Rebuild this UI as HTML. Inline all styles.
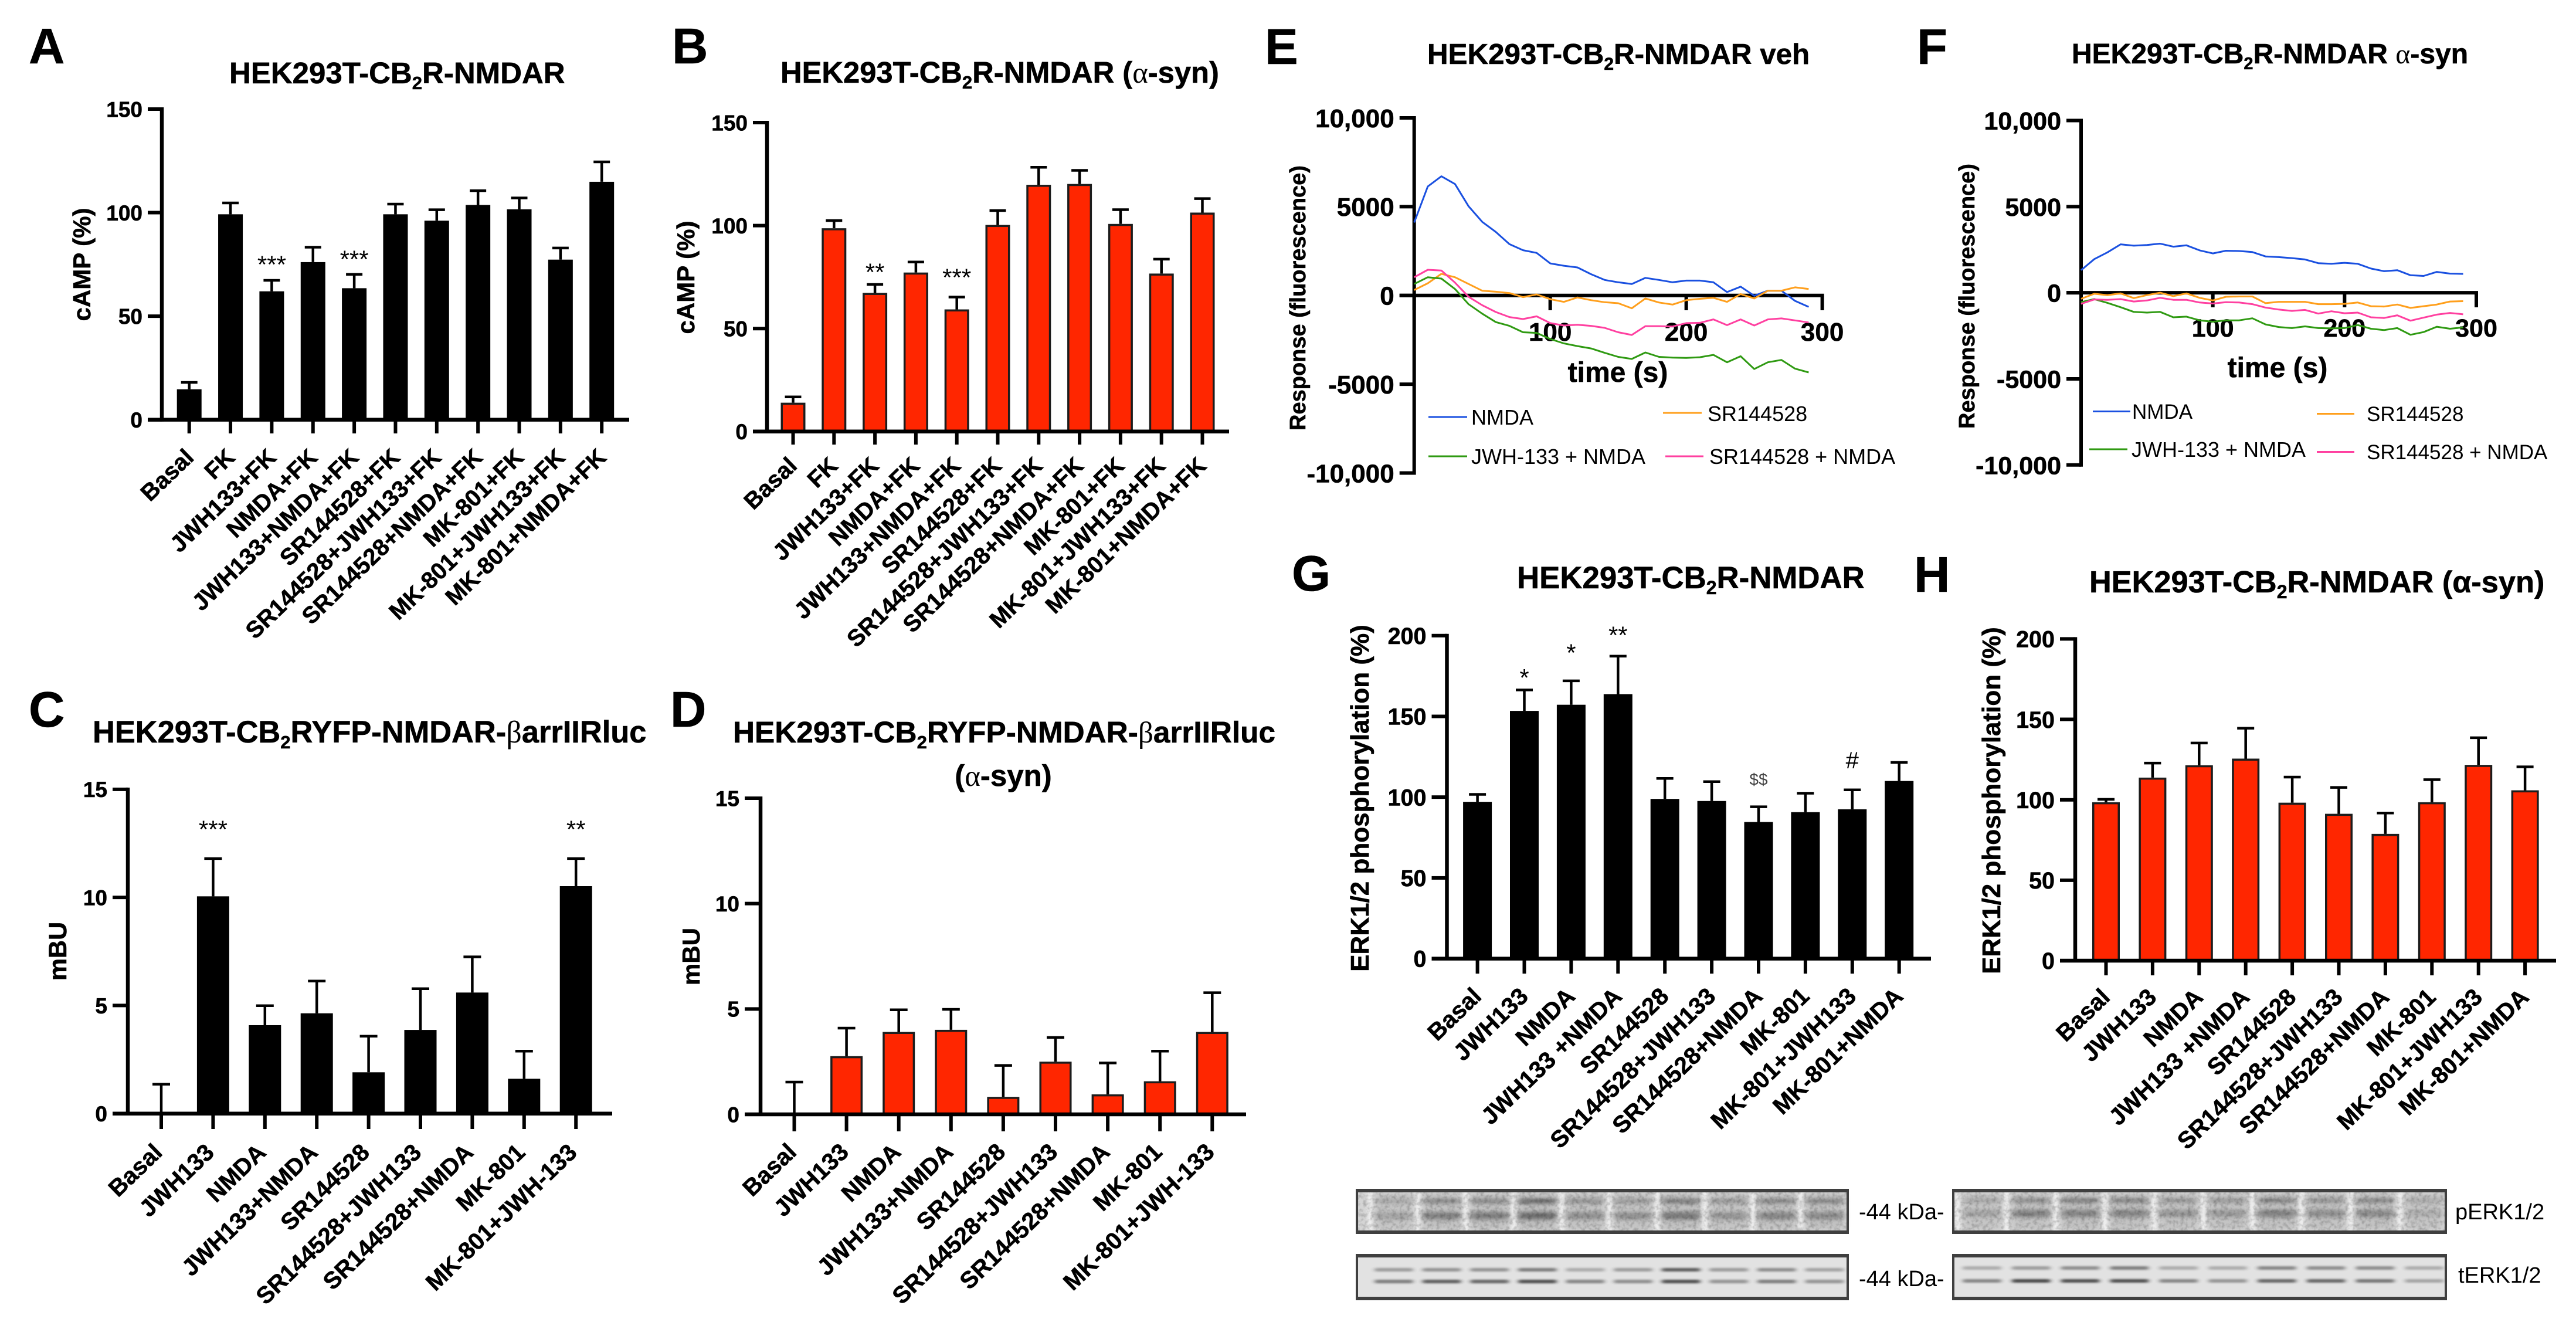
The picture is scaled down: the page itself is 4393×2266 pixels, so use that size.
<!DOCTYPE html>
<html lang="en">
<head>
<meta charset="utf-8">
<title>HEK293T-CB2R-NMDAR figure</title>
<style>
html,body{margin:0;padding:0;background:#fff;}
svg{display:block;}
text{font-family:"Liberation Sans",sans-serif;fill:#000;}
.b,text[font-weight="bold"]{font-weight:bold;stroke:#000;stroke-width:0.6px;}
.greek{font-family:"Liberation Serif",serif;font-weight:normal;}
</style>
</head>
<body>
<svg id="figure" xmlns="http://www.w3.org/2000/svg" width="4393" height="2266" viewBox="0 0 4393 2266">
<defs>
<filter id="blur-soft" x="-30%" y="-200%" width="160%" height="500%"><feGaussianBlur stdDeviation="6 3.2"/></filter>
<filter id="blur-lane" x="-300%" y="-20%" width="700%" height="140%"><feGaussianBlur stdDeviation="3.5 1"/></filter>
<filter id="blur-thin" x="-30%" y="-200%" width="160%" height="500%"><feGaussianBlur stdDeviation="4 1.6"/></filter>
<filter id="grain" x="0" y="0" width="100%" height="100%"><feTurbulence type="fractalNoise" baseFrequency="0.16" numOctaves="2" seed="4"/><feColorMatrix type="matrix" values="0 0 0 0 0  0 0 0 0 0  0 0 0 0 0  0 0 0 1.5 -0.62"/></filter>
</defs>
<rect width="4393" height="2266" fill="#fff"/>

<g id="panel-a">
<text class="b" x="49" y="108" font-size="85">A</text>
<text class="b" x="391" y="142" font-size="51">HEK293T-CB<tspan font-size="31" dy="10">2</tspan><tspan dy="-10">R-NMDAR</tspan></text>
<text class="b" transform="translate(154,451) rotate(-90)" text-anchor="middle" font-size="42">cAMP (%)</text>
</g>
<g id="panel-b">
<text class="b" x="1146" y="108" font-size="85">B</text>
<text class="b" x="1331" y="141" font-size="50.7">HEK293T-CB<tspan font-size="31" dy="10">2</tspan><tspan dy="-10">R-NMDAR (</tspan><tspan class="greek" style="stroke-width:0">α</tspan>-syn)</text>
<text class="b" transform="translate(1184,473) rotate(-90)" text-anchor="middle" font-size="42">cAMP (%)</text>
</g>
<g id="panel-c">
<text class="b" x="49" y="1239" font-size="85">C</text>
<text class="b" x="158" y="1266" font-size="52.4">HEK293T-CB<tspan font-size="31" dy="10">2</tspan><tspan dy="-10">RYFP-NMDAR-</tspan><tspan class="greek" style="stroke-width:0">β</tspan>arrIIRluc</text>
<text class="b" transform="translate(113,1622) rotate(-90)" text-anchor="middle" font-size="43">mBU</text>
</g>
<g id="panel-d">
<text class="b" x="1143" y="1239" font-size="85">D</text>
<text class="b" x="1250" y="1266" font-size="51.3">HEK293T-CB<tspan font-size="31" dy="10">2</tspan><tspan dy="-10">RYFP-NMDAR-</tspan><tspan class="greek" style="stroke-width:0">β</tspan>arrIIRluc</text>
<text class="b" x="1711" y="1340" text-anchor="middle" font-size="51">(<tspan class="greek" style="stroke-width:0">α</tspan>-syn)</text>
<text class="b" transform="translate(1193,1631) rotate(-90)" text-anchor="middle" font-size="42">mBU</text>
</g>
<g id="panel-e">
<text class="b" x="2157" y="109" font-size="85">E</text>
<text class="b" x="2434" y="109" font-size="49.3">HEK293T-CB<tspan font-size="30" dy="10">2</tspan><tspan dy="-10">R-NMDAR veh</tspan></text>
<text class="b" transform="translate(2226,508) rotate(-90)" text-anchor="middle" font-size="38">Response (fluorescence)</text>
<text class="b" x="2759" y="651" text-anchor="middle" font-size="48">time (s)</text>
<line x1="2436" x2="2502" y1="711" y2="711" stroke="#1A50E0" stroke-width="3"/>
<text x="2509" y="724" font-size="36">NMDA</text>
<line x1="2836" x2="2902" y1="704" y2="704" stroke="#FF9F1C" stroke-width="3"/>
<text x="2912" y="718" font-size="36">SR144528</text>
<line x1="2436" x2="2502" y1="778" y2="778" stroke="#2F9A12" stroke-width="3"/>
<text x="2509" y="791" font-size="36">JWH-133 + NMDA</text>
<line x1="2840" x2="2905" y1="778" y2="778" stroke="#FF40A0" stroke-width="3"/>
<text x="2915" y="791" font-size="36">SR144528 + NMDA</text>
</g>
<g id="panel-f">
<text class="b" x="3269" y="109" font-size="85">F</text>
<text class="b" x="3533" y="108" font-size="48">HEK293T-CB<tspan font-size="29" dy="10">2</tspan><tspan dy="-10">R-NMDAR </tspan><tspan class="greek" style="stroke-width:0">α</tspan>-syn</text>
<text class="b" transform="translate(3367,505) rotate(-90)" text-anchor="middle" font-size="38">Response (fluorescence)</text>
<text class="b" x="3884" y="643" text-anchor="middle" font-size="48">time (s)</text>
<line x1="3569" x2="3633" y1="701.5" y2="701.5" stroke="#1A50E0" stroke-width="3"/>
<text x="3636" y="714" font-size="35">NMDA</text>
<line x1="3951" x2="4015" y1="705.5" y2="705.5" stroke="#FF9F1C" stroke-width="3"/>
<text x="4036" y="718" font-size="35">SR144528</text>
<line x1="3563" x2="3628" y1="766" y2="766" stroke="#2F9A12" stroke-width="3"/>
<text x="3635" y="779" font-size="36">JWH-133 + NMDA</text>
<line x1="3951" x2="4015" y1="770.5" y2="770.5" stroke="#FF40A0" stroke-width="3"/>
<text x="4036" y="783" font-size="35">SR144528 + NMDA</text>
</g>
<g id="panel-g">
<text class="b" x="2203" y="1007" font-size="85">G</text>
<text class="b" x="2587" y="1003" font-size="52.8">HEK293T-CB<tspan font-size="32" dy="10">2</tspan><tspan dy="-10">R-NMDAR</tspan></text>
<text class="b" transform="translate(2334,1361) rotate(-90)" text-anchor="middle" font-size="44">ERK1/2 phosphorylation (%)</text>
</g>
<g id="panel-h">
<text class="b" x="3264" y="1009" font-size="85">H</text>
<text class="b" x="3563" y="1010" font-size="52.3">HEK293T-CB<tspan font-size="32" dy="10">2</tspan><tspan dy="-10">R-NMDAR (α-syn)</tspan></text>
<text class="b" transform="translate(3411,1365) rotate(-90)" text-anchor="middle" font-size="44">ERK1/2 phosphorylation (%)</text>
</g>
<g id="blots">
<text x="3170" y="2079" font-size="38">-44 kDa-</text>
<text x="3170" y="2193" font-size="38">-44 kDa-</text>
<text x="4187" y="2079" font-size="38">pERK1/2</text>
<text x="4192" y="2187" font-size="38">tERK1/2</text>
</g>
</svg>
<script>
const categoriesFK = ['Basal','FK','JWH133+FK','NMDA+FK','JWH133+NMDA+FK','SR144528+FK','SR144528+JWH133+FK','SR144528+NMDA+FK','MK-801+FK','MK-801+JWH133+FK','MK-801+NMDA+FK'];
const categoriesBRET = ['Basal','JWH133','NMDA','JWH133+NMDA','SR144528','SR144528+JWH133','SR144528+NMDA','MK-801','MK-801+JWH-133'];
const categoriesERK = ['Basal','JWH133','NMDA','JWH133 +NMDA','SR144528','SR144528+JWH133','SR144528+NMDA','MK-801','MK-801+JWH133','MK-801+NMDA'];

const ticksCAMP = [0,50,100,150];
const ticksMBU = [0,5,10,15];
const ticksERK = [0,50,100,150,200];

const valuesA = [14.7,99.2,62,76.1,63.5,99.2,96.1,103.7,101.6,77.3,114.9];
const errorsA = [3.3,5.5,5.3,7.2,6.7,4.9,5.3,6.9,5.5,5.6,9.6];
const marksA = ['','','***','','***','','','','','',''];
const markLevelsA = [0,0,77.8,0,80.3,0,0,0,0,0,0];

const valuesB = [14,98.7,67.3,77.2,59.3,100.3,119.8,120.2,100.8,76.7,106.3];
const errorsB = [2.8,3.7,4.1,5.1,6,7,8.5,6.6,6.9,7,6.8];
const marksB = ['','','**','','***','','','','','',''];
const markLevelsB = [0,0,80.2,0,77.7,0,0,0,0,0,0];

const valuesC = [0,10.05,4.09,4.64,1.91,3.87,5.6,1.61,10.52];
const errorsC = [1.36,1.75,0.9,1.49,1.67,1.91,1.65,1.28,1.28];
const marksC = ['','***','','','','','','','**'];
const markLevelsC = [0,13.42,0,0,0,0,0,0,13.42];

const valuesD = [0,2.76,3.91,4.01,0.83,2.5,0.95,1.57,3.91];
const errorsD = [1.53,1.33,1.05,0.97,1.49,1.15,1.49,1.43,1.86];
const marksD = ['','','','','','','','',''];
const markLevelsD = [0,0,0,0,0,0,0,0,0];

const valuesG = [97.1,153.4,157.2,163.8,98.9,97.6,84.6,90.7,92.5,110];
const errorsG = [4.6,13,14.8,23.5,12.7,12,9.4,11.7,12,11.5];
const marksG = ['','*','*','**','','','$$','','#',''];
const markLevelsG = [0,177.6,192.9,203.9,0,0,111,0,122.9,0];

const valuesH = [98.5,113.8,121.5,125.6,98.2,91.3,78.8,98.5,121.7,105.9];
const errorsH = [1.8,9,13.8,18.9,15.9,16.4,13,14,16.9,14.6];
const marksH = ['','','','','','','','','',''];
const markLevelsH = [0,0,0,0,0,0,0,0,0,0];

const timeSeconds = [0,10,20,30,40,50,60,70,80,90,100,110,120,130,140,150,160,170,180,190,200,210,220,230,240,250,260,270,280,290];
const responseTicks = [-10000,-5000,0,5000,10000];
const responseTickLabels = ['-10,000','-5000','0','5000','10,000'];
const timeTicks = [0,100,200,300];
const timeTickLabels = ['','100','200','300'];

const nmdaE = [4106,6140,6711,6273,5019,4144,3574,2890,2547,2395,1806,1673,1578,1198,874,741,646,989,874,741,836,836,741,190,494,-19,266,266,-304,-646];
const sr144528E = [304,684,1217,1027,646,266,209,133,-95,57,-209,-361,-114,-266,-380,-437,-722,-171,-399,-513,-266,-190,-133,-361,76,-171,266,266,456,361];
const jwhNmdaE = [646,1027,951,361,-494,-1027,-1502,-1711,-2072,-2110,-2452,-2699,-2851,-2984,-3232,-3460,-3574,-3213,-3460,-3498,-3517,-3479,-3346,-3764,-3422,-4144,-3764,-3631,-4125,-4334];
const srNmdaE = [1027,1445,1407,722,-76,-551,-932,-1217,-1331,-1179,-1559,-1692,-1654,-1711,-1825,-2072,-2224,-1730,-1730,-1749,-1559,-1540,-1350,-1673,-1350,-1692,-1350,-1293,-1407,-1521];

const nmdaF = [1309,1953,2344,2812,2734,2773,2851,2676,2754,2461,2285,2441,2422,2363,2109,2070,2012,1934,1719,1680,1738,1680,1406,1250,1309,1016,977,1211,1113,1094];
const sr144528F = [-352,-59,-137,-39,-312,-137,0,-195,-39,-293,-449,-234,-215,-215,-605,-527,-527,-527,-664,-664,-645,-566,-781,-801,-684,-879,-781,-684,-508,-488];
const jwhNmdaF = [-547,-371,-586,-840,-1113,-1152,-1113,-1426,-1387,-1601,-1680,-1601,-1601,-1484,-1836,-1992,-2051,-1953,-2051,-2070,-2051,-1875,-2090,-2168,-2051,-2441,-2285,-1973,-2090,-2012];
const srNmdaF = [-645,-391,-410,-371,-508,-449,-293,-410,-410,-566,-625,-547,-566,-664,-859,-977,-1055,-996,-1211,-1074,-1191,-1152,-1426,-1465,-1309,-1621,-1445,-1270,-1172,-1250];

const perkUpperG = [0.3,0.6,0.6,0.95,0.5,0.45,0.75,0.45,0.65,0.65];
const perkLowerG = [0.3,0.65,0.7,0.85,0.5,0.5,0.75,0.45,0.6,0.55];
const terkUpperG = [0.45,0.5,0.5,0.65,0.35,0.45,0.85,0.45,0.55,0.4];
const terkLowerG = [0.65,0.85,0.8,0.95,0.6,0.55,0.95,0.5,0.65,0.5];
const perkUpperH = [0.3,0.55,0.7,0.65,0.45,0.45,0.65,0.5,0.6,0.25];
const perkLowerH = [0.3,0.65,0.6,0.6,0.45,0.4,0.65,0.5,0.55,0.2];
const terkUpperH = [0.35,0.45,0.55,0.65,0.35,0.35,0.6,0.55,0.55,0.35];
const terkLowerH = [0.6,1,0.95,0.95,0.6,0.5,0.8,0.8,0.7,0.4];

const NS = 'http://www.w3.org/2000/svg';
function make(tag, parent, attrs, txt) {
  const e = document.createElementNS(NS, tag);
  for (const k in attrs) e.setAttribute(k, attrs[k]);
  if (txt !== undefined) e.textContent = txt;
  parent.appendChild(e);
  return e;
}
function linear(d0, d1, r0, r1) {
  return function (v) { return r0 + (v - d0) * (r1 - r0) / (d1 - d0); };
}

function drawBarChart(o) {
  const g = document.getElementById(o.panel);
  const y = linear(0, o.max, o.yBot, o.yTop);
  const x = function (i) { return o.first + i * o.step; };
  const sw = o.fill === '#000' ? 0 : 3.5;

  o.vals.forEach(function (v, i) {
    if (v > 0) {
      const bar = make('rect', g, {x: x(i) - o.barW / 2 + sw / 2, y: y(v) + sw / 2, width: o.barW - sw, height: Math.max(0, o.yBot - y(v) - sw / 2), fill: o.fill, stroke: sw ? '#1c1c1c' : 'none', 'stroke-width': sw});
      
      
    }
    const top = y(v + o.errs[i]);
    const err = make('path', g, {d: 'M' + x(i) + ' ' + y(v) + 'V' + top + 'M' + (x(i) - o.capW / 2) + ' ' + top + 'H' + (x(i) + o.capW / 2), fill: 'none', stroke: '#000', 'stroke-width': 4.5});
    
    
  });

  const yAxis = make('line', g, {x1: o.axisX, x2: o.axisX, y1: o.yTop - 3, y2: o.yBot + 3, stroke: '#000', 'stroke-width': 6.5});
  
  
  const xAxis = make('line', g, {x1: o.axisX - o.tickLen, x2: o.xEnd, y1: o.yBot, y2: o.yBot, stroke: '#000', 'stroke-width': 6.5});
  
  

  o.ticks.forEach(function (t) {
    const tick = make('line', g, {x1: o.axisX - o.tickLen, x2: o.axisX, y1: y(t), y2: y(t), stroke: '#000', 'stroke-width': 6});
    
    
    const lab = make('text', g, {x: o.axisX - o.tickLen - 9, y: y(t) + o.tickFont * 0.36, 'text-anchor': 'end', 'font-size': o.tickFont, 'font-weight': 'bold'}, String(t));
    
    
  });

  o.cats.forEach(function (c, i) {
    const tick = make('line', g, {x1: x(i), x2: x(i), y1: o.yBot, y2: o.tickBottom, stroke: '#000', 'stroke-width': 6});
    
    
    const ax = x(i) + o.labelDx;
    const ay = o.yBot + o.labelDy;
    const lab = make('text', g, {transform: 'translate(' + ax + ',' + ay + ') rotate(-44)', 'text-anchor': 'end', 'font-size': o.labelFont, 'font-weight': 'bold'}, c);
    
    
  });

  o.marks.forEach(function (m, i) {
    if (!m) return;
    const isStar = m.indexOf('*') >= 0;
    const fs = isStar ? 42 : (m === '#' ? 40 : 28);
    const sig = make('text', g, {x: x(i), y: y(o.levels[i]) + fs * (isStar ? 0.58 : 0.35), 'text-anchor': 'middle', 'font-size': fs, style: m === '$$' ? 'fill:#444' : ''}, m);
    
    
  });
}

function drawLineChart(o) {
  const g = document.getElementById(o.panel);
  const y = linear(-10000, 10000, o.yBot, o.yTop);
  const x = linear(0, 300, o.x0, o.x300);
  const yAxis = make('line', g, {x1: o.x0, x2: o.x0, y1: o.yTop - 3, y2: o.yBot + 3, stroke: '#000', 'stroke-width': 6});
  
  
  const xAxis = make('line', g, {x1: o.x0 - 25, x2: o.x300 + 3, y1: y(0), y2: y(0), stroke: '#000', 'stroke-width': 6});
  
  

  responseTicks.forEach(function (t, i) {
    const tick = make('line', g, {x1: o.x0 - 25, x2: o.x0, y1: y(t), y2: y(t), stroke: '#000', 'stroke-width': 6});
    
    
    const lab = make('text', g, {x: o.x0 - 34, y: y(t) + o.tickFont * 0.36, 'text-anchor': 'end', 'font-size': o.tickFont, 'font-weight': 'bold'}, responseTickLabels[i]);
    
    
  });
  timeTicks.forEach(function (t, i) {
    const tick = make('line', g, {x1: x(t), x2: x(t), y1: y(0), y2: o.tickBottom, stroke: '#000', 'stroke-width': 6});
    
    
    if (timeTickLabels[i]) {
      const lab = make('text', g, {x: x(t), y: o.xLabelY, 'text-anchor': 'middle', 'font-size': o.tickFont, 'font-weight': 'bold'}, timeTickLabels[i]);
      
      
    }
  });
  o.series.forEach(function (s) {
    const d = s.values.map(function (v, i) { return (i ? 'L' : 'M') + x(timeSeconds[i]).toFixed(1) + ' ' + y(v).toFixed(1); }).join('');
    const path = make('path', g, {d: d, fill: 'none', stroke: s.color, 'stroke-width': 3, 'stroke-linejoin': 'round'});
    
    
  });
}

function drawBlot(o) {
  const g = make('g', document.getElementById('blots'), {});
  
  
  make('rect', g, {x: o.left, y: o.top, width: o.right - o.left, height: o.bottom - o.top, fill: o.bg});
  o.upper.forEach(function (v, i) {
    const cx = o.first + i * o.step;
    if (o.noisy) {
      make('rect', g, {x: cx - o.step / 2 - 3, y: o.top + 5, width: 7, height: o.bottom - o.top - 10, fill: '#fff', opacity: 0.9, filter: 'url(#blur-lane)'});
      make('rect', g, {x: cx - 32, y: o.top + 8, width: 64, height: o.bottom - o.top - 16, fill: '#999', opacity: 0.2 + v * 0.15, filter: 'url(#blur-soft)'});
    }
    make('rect', g, {x: cx - 33, y: o.upperY - o.thick / 2, width: 66, height: o.thick, rx: 3, fill: o.ink, opacity: v * o.gain, filter: o.noisy ? 'url(#blur-soft)' : 'url(#blur-thin)'});
    make('rect', g, {x: cx - 33, y: o.lowerY - o.thick * (o.noisy ? 0.8 : 0.5), width: 66, height: o.thick * (o.noisy ? 1.6 : 1), rx: 3, fill: o.ink, opacity: o.lower[i] * o.gain, filter: o.noisy ? 'url(#blur-soft)' : 'url(#blur-thin)'});
  });
  if (o.noisy) {
    make('rect', g, {x: o.left, y: o.top, width: o.right - o.left, height: o.bottom - o.top, filter: 'url(#grain)', opacity: 0.3});
  }
  make('path', g, {d: 'M' + o.left + ' ' + (o.top + 3) + 'H' + o.right + 'M' + o.left + ' ' + (o.bottom - 3) + 'H' + o.right, stroke: '#3f3f3f', 'stroke-width': 6, fill: 'none'});
  make('path', g, {d: 'M' + (o.left + 2) + ' ' + o.top + 'V' + o.bottom + 'M' + (o.right - 2) + ' ' + o.top + 'V' + o.bottom, stroke: '#3f3f3f', 'stroke-width': 4, fill: 'none'});
}

drawBarChart({panel:'panel-a',cats:categoriesFK,vals:valuesA,errs:errorsA,ticks:ticksCAMP,marks:marksA,levels:markLevelsA,max:150,fill:'#000',axisX:276,xEnd:1073,yTop:186,yBot:715.6,first:322.7,step:70.35,barW:42,capW:28,tickLen:24,tickBottom:739,tickFont:37,labelFont:40,labelDx:10,labelDy:67});
drawBarChart({panel:'panel-b',cats:categoriesFK,vals:valuesB,errs:errorsB,ticks:ticksCAMP,marks:marksB,levels:markLevelsB,max:150,fill:'#FF2600',axisX:1308,xEnd:2096,yTop:209,yBot:735.8,first:1352.5,step:69.8,barW:42,capW:28,tickLen:24,tickBottom:758,tickFont:37,labelFont:40,labelDx:9,labelDy:61});
drawBarChart({panel:'panel-c',cats:categoriesBRET,vals:valuesC,errs:errorsC,ticks:ticksMBU,marks:marksC,levels:markLevelsC,max:15,fill:'#000',axisX:218,xEnd:1044,yTop:1345.9,yBot:1898.7,first:275,step:88.4,barW:55,capW:30,tickLen:26,tickBottom:1925,tickFont:37,labelFont:40.5,labelDx:4,labelDy:69});
drawBarChart({panel:'panel-d',cats:categoriesBRET,vals:valuesD,errs:errorsD,ticks:ticksMBU,marks:marksD,levels:markLevelsD,max:15,fill:'#FF2600',axisX:1297,xEnd:2125,yTop:1361,yBot:1900,first:1354.5,step:89.1,barW:55,capW:30,tickLen:27,tickBottom:1929,tickFont:37,labelFont:40.5,labelDx:6,labelDy:67});
drawBarChart({panel:'panel-g',cats:categoriesERK,vals:valuesG,errs:errorsG,ticks:ticksERK,marks:marksG,levels:markLevelsG,max:200,fill:'#000',axisX:2467.5,xEnd:3293,yTop:1083.8,yBot:1634.5,first:2519.6,step:79.9,barW:49,capW:29,tickLen:26,tickBottom:1660,tickFont:39.5,labelFont:40.5,labelDx:9,labelDy:67});
drawBarChart({panel:'panel-h',cats:categoriesERK,vals:valuesH,errs:errorsH,ticks:ticksERK,marks:marksH,levels:markLevelsH,max:200,fill:'#FF2600',axisX:3539,xEnd:4359,yTop:1089.4,yBot:1638,first:3591.5,step:79.4,barW:47,capW:29,tickLen:26,tickBottom:1663,tickFont:39.5,labelFont:40.5,labelDx:9,labelDy:65});

drawLineChart({panel:'panel-e',x0:2411.7,x300:3107.6,yTop:201,yBot:806.5,tickBottom:529,xLabelY:581,tickFont:44,series:[{values:nmdaE,color:'#1A50E0'},{values:sr144528E,color:'#FF9F1C'},{values:jwhNmdaE,color:'#2F9A12'},{values:srNmdaE,color:'#FF40A0'}]});
drawLineChart({panel:'panel-f',x0:3549,x300:4223,yTop:205.5,yBot:792.8,tickBottom:524,xLabelY:574,tickFont:43,series:[{values:nmdaF,color:'#1A50E0'},{values:sr144528F,color:'#FF9F1C'},{values:jwhNmdaF,color:'#2F9A12'},{values:srNmdaF,color:'#FF40A0'}]});

drawBlot({left:2312,right:3153,top:2027,bottom:2104,first:2377,step:81.6,upperY:2048,lowerY:2073,thick:8,upper:perkUpperG,lower:perkLowerG,gain:0.75,bg:'#d4d4d4',ink:'#444',noisy:true});
drawBlot({left:2312,right:3153,top:2138,bottom:2217,first:2377,step:81.6,upperY:2165,lowerY:2185,thick:6,upper:terkUpperG,lower:terkLowerG,gain:0.8,bg:'#e2e2e2',ink:'#222',noisy:false});
drawBlot({left:3329,right:4173,top:2027,bottom:2104,first:3380,step:83.8,upperY:2047,lowerY:2069,thick:8,upper:perkUpperH,lower:perkLowerH,gain:0.75,bg:'#d4d4d4',ink:'#444',noisy:true});
drawBlot({left:3329,right:4173,top:2138,bottom:2217,first:3380,step:83.8,upperY:2162,lowerY:2184,thick:6,upper:terkUpperH,lower:terkLowerH,gain:0.8,bg:'#e2e2e2',ink:'#222',noisy:false});
</script>
</body>
</html>
